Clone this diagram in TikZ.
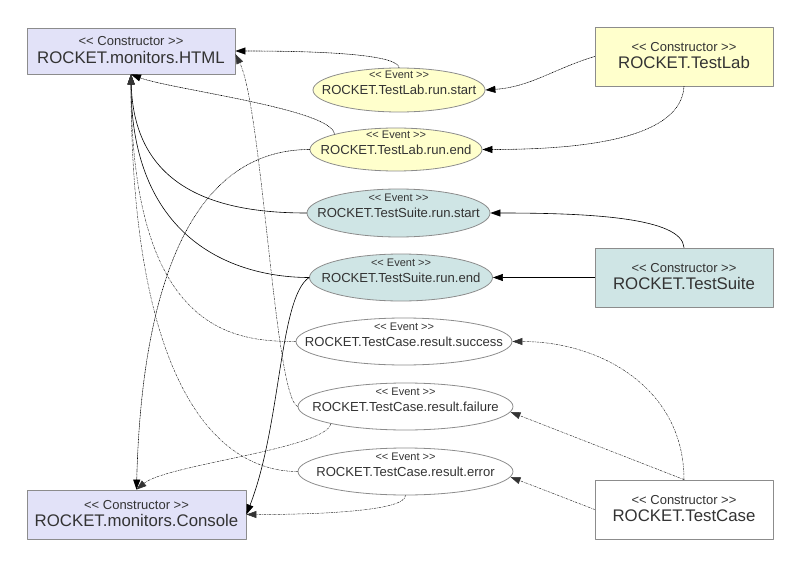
\documentclass[tikz,border=0pt]{standalone}
\usepackage{fontspec}
\setmainfont{Liberation Sans}
\usepackage{tikz}
\usetikzlibrary{shapes.geometric}
\usetikzlibrary{arrows.meta}

\definecolor{monfill}{HTML}{E2E2F8}
\definecolor{labfill}{HTML}{FFFFCC}
\definecolor{suitefill}{HTML}{CFE5E5}
\definecolor{framegray}{HTML}{8C8C8C}
\definecolor{txtgray}{HTML}{333333}

\newcommand\stype[1]{<\kern0pt< #1 >\kern0pt>}
\newcommand\ctor[1]{\begin{tabular}{@{}c@{}}{\fontsize{13}{13}\selectfont\stype{Constructor}}\\{\fontsize{16.8}{17}\selectfont ROCKET.#1}\end{tabular}}
\newcommand\evt[1]{\makebox[0pt]{\raisebox{-4.7pt}[0pt][0pt]{\begin{tabular}[b]{@{}c@{}}{\fontsize{11}{11}\selectfont\stype{Event}}\\{\fontsize{13.1}{13}\selectfont ROCKET.#1}\end{tabular}}}}

\tikzset{
  ctorbox/.style={draw=framegray,line width=0.8pt,rectangle,minimum width=178pt,minimum height=59pt,inner sep=0pt,text=txtgray,font=\fontsize{13}{17.5}\selectfont},
  monbox/.style={ctorbox,fill=monfill},
  evbubble/.style={draw=framegray,line width=0.8pt,ellipse,inner sep=0pt,text=txtgray,font=\fontsize{11}{16}\selectfont},
  labedge/.style={->,line width=0.6pt,densely dotted},
  suiteedge/.style={->,line width=0.6pt},
  caseedge/.style={->,line width=0.5pt,black!80,dash pattern=on 2pt off 1.2pt on 0.4pt off 1.2pt}
}

\begin{document}
\begin{tikzpicture}[line cap=round,line join=round,>={Triangle[length=10pt,width=7pt]},x=1pt,y=1pt]
\useasboundingbox (0,0) rectangle (800,566);
% monitors
\node[monbox,minimum width=208pt,minimum height=46pt] (html) at (131,515) {\ctor{monitors.HTML}};
\node[monbox,minimum width=219pt,minimum height=49pt] (console) at (136.5,51.5) {\ctor{monitors.Console}};
% constructors
\node[ctorbox,fill=labfill] (testlab) at (684,509.5) {\ctor{TestLab}};
\node[ctorbox,fill=suitefill] (testsuite) at (684,288.5) {\ctor{TestSuite}};
\node[ctorbox,fill=white] (testcase) at (684,56.5) {\ctor{TestCase}};
% events
\node[evbubble,fill=labfill,minimum width=172pt,minimum height=44pt] (labstart) at (399,476) {\evt{TestLab.run.start}};
\node[evbubble,fill=labfill,minimum width=172pt,minimum height=43pt] (labend) at (396,416.5) {\evt{TestLab.run.end}};
\node[evbubble,fill=suitefill,minimum width=183pt,minimum height=48pt] (suitestart) at (398.5,353) {\evt{TestSuite.run.start}};
\node[evbubble,fill=suitefill,minimum width=183pt,minimum height=47pt] (suiteend) at (401,288.5) {\evt{TestSuite.run.end}};
\node[evbubble,minimum width=216pt,minimum height=47pt] (casesuccess) at (404,224.5) {\evt{TestCase.result.success}};
\node[evbubble,minimum width=215pt,minimum height=47pt] (casefailure) at (405.5,159.5) {\evt{TestCase.result.failure}};
\node[evbubble,minimum width=215pt,minimum height=47pt] (caseerror) at (405.5,94.5) {\evt{TestCase.result.error}};
% TestLab
\draw[labedge] (testlab.west) .. controls +(-40,-12) and +(45,3) .. (labstart.east);
\draw[labedge] (testlab.south) .. controls +(-3,-50) and +(110,0) .. (labend.east);
\draw[labedge] (labstart.north) .. controls +(-2,12) and +(100,0) .. (html.east);
\draw[labedge] (labend.166) .. controls +(-2,25) and +(40,-15) .. (html.south);
\draw[labedge] (labend.west) .. controls +(-120,0) and +(5,200) .. (console.north);
% TestSuite
\draw[suiteedge] (testsuite.north) .. controls +(-2,30) and +(100,0) .. (suitestart.east);
\draw[suiteedge] (testsuite.west) -- (suiteend.east);
\draw[suiteedge] (suitestart.west) .. controls +(-80,0) and +(3,-120) .. (html.south);
\draw[suiteedge] (suiteend.west) .. controls +(-70,0) and +(0,-170) .. (html.south);
\draw[suiteedge] (suiteend.west) .. controls +(-30,-20) and +(35,90) .. (console.east);
% TestCase
\draw[caseedge] (testcase.north) .. controls +(0,90) and +(90,0) .. (casesuccess.east);
\draw[caseedge] (testcase.north) -- (casefailure.-3);
\draw[caseedge] (testcase.west) -- (caseerror.-3);
\draw[caseedge] (casesuccess.west) .. controls +(-60,0) and +(0,-260) .. (html.south);
\draw[caseedge] (casefailure.west) .. controls +(-23,10) and +(27,-55) .. ([yshift=-3pt]html.east);
\draw[caseedge] (casefailure.193) .. controls +(-5,-25) and +(30,25) .. (console.north);
\draw[caseedge] (caseerror.west) .. controls +(-70,0) and +(0,-330) .. (html.south);
\draw[caseedge] (caseerror.south) .. controls +(0,-15) and +(80,0) .. (console.east);
\end{tikzpicture}
\end{document}
